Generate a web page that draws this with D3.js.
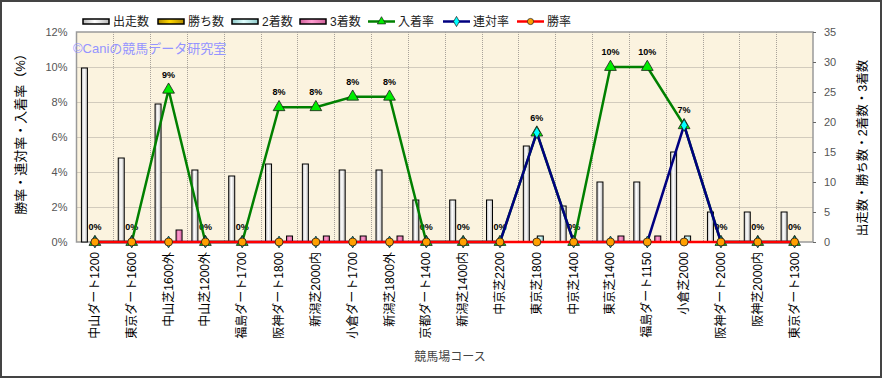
<!DOCTYPE html>
<html>
<head>
<meta charset="utf-8">
<script src="https://cdn.jsdelivr.net/npm/d3@7"></script>
<style>
  body { margin: 0; background: #fff; }
  svg { display: block; font-family: "Liberation Sans", "Noto Sans CJK JP", sans-serif; }
</style>
</head>
<body>
<svg id="chart" width="882" height="378"></svg>
<script>
// data
const courses = ["中山ダート1200", "東京ダート1600", "中山芝1600外", "中山芝1200外", "福島ダート1700",
  "阪神ダート1800", "新潟芝2000内", "小倉ダート1700", "新潟芝1800外", "京都ダート1400",
  "新潟芝1400内", "中京芝2200", "東京芝1800", "中京芝1400", "東京芝1400",
  "福島ダート1150", "小倉芝2000", "阪神ダート2000", "阪神芝2000内", "東京ダート1300"];
const starts  = [29, 14, 23, 12, 11, 13, 13, 12, 12, 7, 7, 7, 16, 6, 10, 10, 15, 5, 5, 5];
const wins    = [0, 0, 0, 0, 0, 0, 0, 0, 0, 0, 0, 0, 0, 0, 0, 0, 0, 0, 0, 0];
const seconds = [0, 0, 0, 0, 0, 0, 0, 0, 0, 0, 0, 0, 1, 0, 0, 0, 1, 0, 0, 0];
const thirds  = [0, 0, 2, 0, 0, 1, 1, 1, 1, 0, 0, 0, 0, 0, 1, 1, 0, 0, 0, 0];
const placeRate   = [0, 0, 8.7, 0, 0, 7.7, 7.7, 8.3, 8.3, 0, 0, 0, 6.25, 0, 10, 10, 6.67, 0, 0, 0];
const rentaiRate  = [0, 0, 0, 0, 0, 0, 0, 0, 0, 0, 0, 0, 6.25, 0, 0, 0, 6.67, 0, 0, 0];
const winRate     = [0, 0, 0, 0, 0, 0, 0, 0, 0, 0, 0, 0, 0, 0, 0, 0, 0, 0, 0, 0];
const leftTicks  = [0, 2, 4, 6, 8, 10, 12];
const rightTicks = [0, 5, 10, 15, 20, 25, 30, 35];

const svg = d3.select('#chart');
const plot = { left: 76.5, right: 813, top: 32, bottom: 242 };

// outer frame
svg.append('rect').attr('x', 1).attr('y', 1).attr('width', 880).attr('height', 376)
  .attr('fill', '#fff').attr('stroke', '#444').attr('stroke-width', 2);

// gradients for bars
const defs = svg.append('defs');
const barColors = { starts: ['#b8b8b8', '#ffffff'], wins: ['#b08a00', '#ffd700'],
  seconds: ['#8cc8c8', '#e0ffff'], thirds: ['#d0609a', '#ff9cd0'] };
Object.entries(barColors).forEach(([k, c]) => {
  const g = defs.append('linearGradient').attr('id', 'g-' + k)
    .attr('x1', 0).attr('x2', 1).attr('y1', 0).attr('y2', 0);
  g.append('stop').attr('offset', '0%').attr('stop-color', c[0]);
  g.append('stop').attr('offset', '45%').attr('stop-color', c[1]);
  g.append('stop').attr('offset', '100%').attr('stop-color', c[0]);
});

// scales
const x = d3.scaleBand().domain(courses).range([plot.left, plot.right]);
const sub = d3.scaleBand().domain(['starts', 'wins', 'seconds', 'thirds'])
  .range([x.bandwidth() * 0.12, x.bandwidth() * 0.88]);
const yL = d3.scaleLinear().domain([0, 12]).range([plot.bottom, plot.top]);
const yR = d3.scaleLinear().domain([0, 35]).range([plot.bottom, plot.top]);
const cx = d => x(d) + x.bandwidth() / 2;

// plot background
svg.append('rect').attr('x', plot.left).attr('y', plot.top)
  .attr('width', plot.right - plot.left).attr('height', plot.bottom - plot.top)
  .attr('fill', '#fbf3df');

// grid
const grid = svg.append('g').attr('stroke', '#a8a29a').attr('stroke-dasharray', '1,1');
grid.selectAll('line.h').data(leftTicks.slice(1, -1)).enter().append('line')
  .attr('x1', plot.left).attr('x2', plot.right)
  .attr('y1', d => yL(d) + 0.5).attr('y2', d => yL(d) + 0.5);
grid.selectAll('line.v').data(courses.slice(1)).enter().append('line')
  .attr('x1', d => Math.round(x(d)) + 0.5).attr('x2', d => Math.round(x(d)) + 0.5)
  .attr('y1', plot.top).attr('y2', plot.bottom);

// plot border
svg.append('rect').attr('x', plot.left).attr('y', plot.top)
  .attr('width', plot.right - plot.left).attr('height', plot.bottom - plot.top)
  .attr('fill', 'none').attr('stroke', '#9a9a9a').attr('stroke-width', 1.5);

// watermark
svg.append('text').attr('x', 73).attr('y', 53).attr('font-size', 13)
  .attr('fill', '#9494ff').text('©Caniの競馬データ研究室');

// rate labels (drawn under the bars, as in the original)
svg.append('g').selectAll('text').data(courses).enter().append('text')
  .attr('x', d => cx(d)).attr('y', (d, i) => yL(placeRate[i]) - 12)
  .attr('text-anchor', 'middle').attr('font-size', 9).attr('font-weight', 'bold')
  .text((d, i) => Math.round(placeRate[i]) + '%');

// bars
const series = { starts, wins, seconds, thirds };
Object.entries(series).forEach(([k, vals]) => {
  svg.append('g').selectAll('rect')
    .data(courses.map((c, i) => ({ c, v: vals[i] })).filter(d => d.v > 0))
    .enter().append('rect')
    .attr('x', d => x(d.c) + sub(k) + 0.5)
    .attr('y', d => yR(d.v))
    .attr('width', sub.bandwidth() - 1)
    .attr('height', d => plot.bottom - yR(d.v))
    .attr('fill', `url(#g-${k})`).attr('stroke', '#000').attr('stroke-width', 1);
});

// lines
function drawLine(vals, color, marker, mfill) {
  const pts = courses.map((c, i) => [cx(c), yL(vals[i])]);
  svg.append('path').datum(pts).attr('d', d3.line())
    .attr('fill', 'none').attr('stroke', color).attr('stroke-width', 2.5);
  svg.append('g').selectAll('path').data(pts).enter().append('path')
    .attr('transform', d => `translate(${d[0]},${d[1]})`)
    .attr('d', d3.symbol().type(marker.type).size(marker.size))
    .attr('fill', mfill).attr('stroke', '#1a1a1a').attr('stroke-width', 0.8);
}
drawLine(placeRate, '#008000', { type: d3.symbolTriangle, size: 60 }, '#00ee00');
drawLine(rentaiRate, '#000080', { type: d3.symbolDiamond, size: 40 }, '#00ffff');
drawLine(winRate, '#ff0000', { type: d3.symbolCircle, size: 50 }, '#ffa000');

// left axis
const axL = svg.append('g').attr('transform', `translate(${plot.left},0)`)
  .call(d3.axisLeft(yL).tickValues(leftTicks).tickFormat(d => d + '%').tickSize(0).tickPadding(9));
axL.select('.domain').remove();
axL.selectAll('text').attr('font-size', 11).attr('fill', '#555').attr('font-family', 'Liberation Sans');

// right axis
const axR = svg.append('g').attr('transform', `translate(${plot.right},0)`)
  .call(d3.axisRight(yR).tickValues(rightTicks).tickSize(3).tickPadding(8));
axR.select('.domain').remove();
axR.selectAll('line').attr('stroke', '#666');
axR.selectAll('text').attr('font-size', 11).attr('fill', '#555').attr('font-family', 'Liberation Sans');

// x labels
svg.append('g').selectAll('text').data(courses).enter().append('text')
  .attr('transform', d => `translate(${cx(d) + 4},${plot.bottom + 10}) rotate(-90)`)
  .attr('text-anchor', 'end').attr('font-size', 12).attr('fill', '#000')
  .text(d => d);

// axis titles
svg.append('text').attr('x', 450).attr('y', 361).attr('text-anchor', 'middle')
  .attr('font-size', 12).attr('fill', '#444').text('競馬場コース');
svg.append('text').attr('transform', 'translate(25,131) rotate(-90)').attr('text-anchor', 'middle')
  .attr('font-size', 13).attr('fill', '#000').text('勝率・連対率・入着率（%）');
svg.append('text').attr('transform', 'translate(867,148) rotate(-90)').attr('text-anchor', 'middle')
  .attr('font-size', 12.5).attr('fill', '#000').text('出走数・勝ち数・2着数・3着数');

// legend
const legendItems = [
  { name: '出走数', x: 83, kind: 'bar', key: 'starts' },
  { name: '勝ち数', x: 158, kind: 'bar', key: 'wins' },
  { name: '2着数', x: 232, kind: 'bar', key: 'seconds' },
  { name: '3着数', x: 300, kind: 'bar', key: 'thirds' },
  { name: '入着率', x: 368, kind: 'line', color: '#008000', type: d3.symbolTriangle, fill: '#00ee00' },
  { name: '連対率', x: 443, kind: 'line', color: '#000080', type: d3.symbolDiamond, fill: '#00ffff' },
  { name: '勝率', x: 517, kind: 'line', color: '#ff0000', type: d3.symbolCircle, fill: '#ffa000' }
];
const lg = svg.append('g');
legendItems.forEach(it => {
  if (it.kind === 'bar') {
    lg.append('rect').attr('x', it.x).attr('y', 19).attr('width', 26).attr('height', 5)
      .attr('fill', `url(#g-${it.key})`).attr('stroke', '#000').attr('stroke-width', 1.5);
  } else {
    lg.append('line').attr('x1', it.x).attr('x2', it.x + 27).attr('y1', 21.5).attr('y2', 21.5)
      .attr('stroke', it.color).attr('stroke-width', 2.5);
    lg.append('path').attr('transform', `translate(${it.x + 13.5},21.5)`)
      .attr('d', d3.symbol().type(it.type).size(30))
      .attr('fill', it.fill).attr('stroke', '#1a1a1a').attr('stroke-width', 0.7);
  }
  lg.append('text').attr('x', it.x + 30).attr('y', 26).attr('font-size', 12)
    .attr('fill', '#222').text(it.name);
});
</script>
</body>
</html>
